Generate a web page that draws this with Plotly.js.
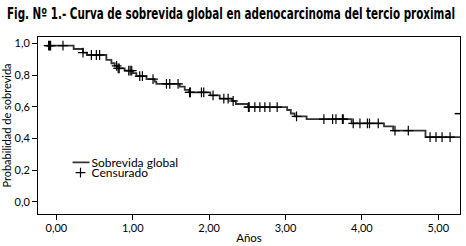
<!DOCTYPE html>
<html>
<head>
<meta charset="utf-8">
<script src="https://cdn.plot.ly/plotly-3.0.1.min.js"></script>
<style>
  html, body { margin: 0; padding: 0; background: #fff; }
  #chart { width: 466px; height: 246px; }
</style>
</head>
<body>
<div id="chart"></div>
<script>
// Kaplan-Meier step curve (time in years, survival probability)
const stepTimes = [-0.13, 0.227, 0.349, 0.401, 0.655, 0.721, 0.764, 0.808, 0.895, 1.004, 1.048, 1.18, 1.288, 1.31, 1.616, 1.681, 1.738, 2.016, 2.14, 2.30, 2.35, 2.51, 3.022, 3.07, 3.12, 3.277, 3.866, 4.29, 4.41, 4.833];
const survival  = [0.987, 0.966, 0.943, 0.928, 0.897, 0.876, 0.859, 0.844, 0.829, 0.813, 0.795, 0.775, 0.76, 0.745, 0.728, 0.707, 0.692, 0.672, 0.652, 0.637, 0.618, 0.598, 0.58, 0.558, 0.54, 0.522, 0.496, 0.477, 0.45, 0.409];
const endTime = 5.285;

// Censored observations (years)
const censorTimes = [-0.101, -0.088, -0.075, 0.087, 0.349, 0.459, 0.524, 0.567, 0.79, 0.81, 0.823, 0.948, 0.967, 0.987, 1.092, 1.127, 1.266, 1.442, 1.485, 1.594, 1.745, 1.755, 1.90, 1.93, 2.052, 2.193, 2.249, 2.315, 2.515, 2.525, 2.599, 2.665, 2.73, 2.796, 2.891, 3.145, 3.503, 3.617, 3.661, 3.746, 3.756, 3.887, 3.975, 4.073, 4.10, 4.215, 4.434, 4.608, 4.893, 4.971, 5.05, 5.155];

// Isolated short dash near the right border
const dashTime = [5.26];
const dashValue = [0.557];

const xTickVals = [0, 1, 2, 3, 4, 5];
const xTickText = ['0,00', '1,00', '2,00', '3,00', '4,00', '5,00'];
const yTickVals = [0, 0.2, 0.4, 0.6, 0.8, 1.0];
const yTickText = ['0,0', '0,2', '0,4', '0,6', '0,8', '1,0'];

function survAt(t) {
  let s = survival[0];
  for (let i = 0; i < stepTimes.length; i++) {
    if (stepTimes[i] <= t + 1e-9) s = survival[i];
  }
  return s;
}

const lineX = stepTimes.concat([endTime]);
const lineY = survival.concat([survival[survival.length - 1]]);
const censorY = censorTimes.map(survAt);

const FONT = 'Lato, "Open Sans", sans-serif';

const traces = [
  {
    x: lineX, y: lineY, type: 'scatter', mode: 'lines',
    line: { shape: 'hv', color: '#333333', width: 1.8 },
    name: 'Sobrevida global', legend: 'legend', hoverinfo: 'skip'
  },
  {
    x: censorTimes, y: censorY, type: 'scatter', mode: 'markers',
    marker: { symbol: 'cross-thin-open', size: 7, color: '#000', line: { color: '#000', width: 1.2 } },
    name: 'Censurado', legend: 'legend2', hoverinfo: 'skip'
  },
  {
    x: dashTime, y: dashValue, type: 'scatter', mode: 'markers',
    marker: { symbol: 'line-ew-open', size: 5, color: '#000', line: { color: '#000', width: 1.5 } },
    showlegend: false, hoverinfo: 'skip'
  }
];

const layout = {
  width: 466, height: 246,
  margin: { l: 38.3, r: 6, t: 37, b: 32, pad: 0 },
  paper_bgcolor: '#fff', plot_bgcolor: '#fff',
  separators: ',.',
  font: { family: FONT, size: 11, color: '#000' },
  title: {
    text: '<b>Fig. Nº 1.- Curva de sobrevida global en adenocarcinoma del tercio proximal</b>',
    font: { family: '"DejaVu Sans Condensed", sans-serif', size: 15, color: '#000' },
    x: 0.015, xanchor: 'left', xref: 'container', y: 0.945, yanchor: 'middle', yref: 'container'
  },
  xaxis: {
    range: [-0.24, 5.285], showgrid: false, zeroline: false,
    showline: true, mirror: true, linecolor: '#000', linewidth: 1,
    ticks: 'outside', ticklen: 5, tickcolor: '#000', tickwidth: 1,
    ticklabelstandoff: -1,
    tickvals: xTickVals, ticktext: xTickText,
    tickfont: { family: FONT, size: 11, color: '#000' },
    title: { text: 'Años', font: { family: FONT, size: 11.5, color: '#000' }, standoff: 0 }
  },
  yaxis: {
    range: [-0.078, 1.042], showgrid: false, zeroline: false,
    showline: true, mirror: true, linecolor: '#000', linewidth: 1,
    ticks: 'outside', ticklen: 5, tickcolor: '#000', tickwidth: 1,
    tickvals: yTickVals, ticktext: yTickText,
    tickfont: { family: FONT, size: 11, color: '#000' },
    title: { text: 'Probabilidad de sobrevida', font: { family: FONT, size: 11, color: '#000' }, standoff: 3 }
  },
  showlegend: true,
  legend: {
    x: 0.032, y: 0.292, xanchor: 'left', yanchor: 'middle',
    bgcolor: 'rgba(0,0,0,0)', borderwidth: 0, itemwidth: 30,
    font: { family: FONT, size: 12, color: '#000' }
  },
  legend2: {
    x: 0.032, y: 0.234, xanchor: 'left', yanchor: 'middle',
    bgcolor: 'rgba(0,0,0,0)', borderwidth: 0, itemwidth: 30,
    font: { family: FONT, size: 12, color: '#000' }
  }
};

Plotly.newPlot('chart', traces, layout, { displayModeBar: false, staticPlot: true }).then(function (gd) {
  // Fit the bold title into the same width as the reference's condensed heading
  const t = gd.querySelector('.g-gtitle text.gtitle');
  if (t) {
    t.setAttribute('textLength', '448');
    t.setAttribute('lengthAdjust', 'spacingAndGlyphs');
  }
  // Shorter legend line sample and cross placed like the reference key
  gd.querySelectorAll('.legendlines path').forEach(function (lp) {
    lp.setAttribute('d', 'M21,0h17');
  });
  gd.querySelectorAll('.legendpoints path.scatterpts').forEach(function (p) {
    p.setAttribute('transform', 'translate(29,0)');
  });
});
</script>
</body>
</html>
